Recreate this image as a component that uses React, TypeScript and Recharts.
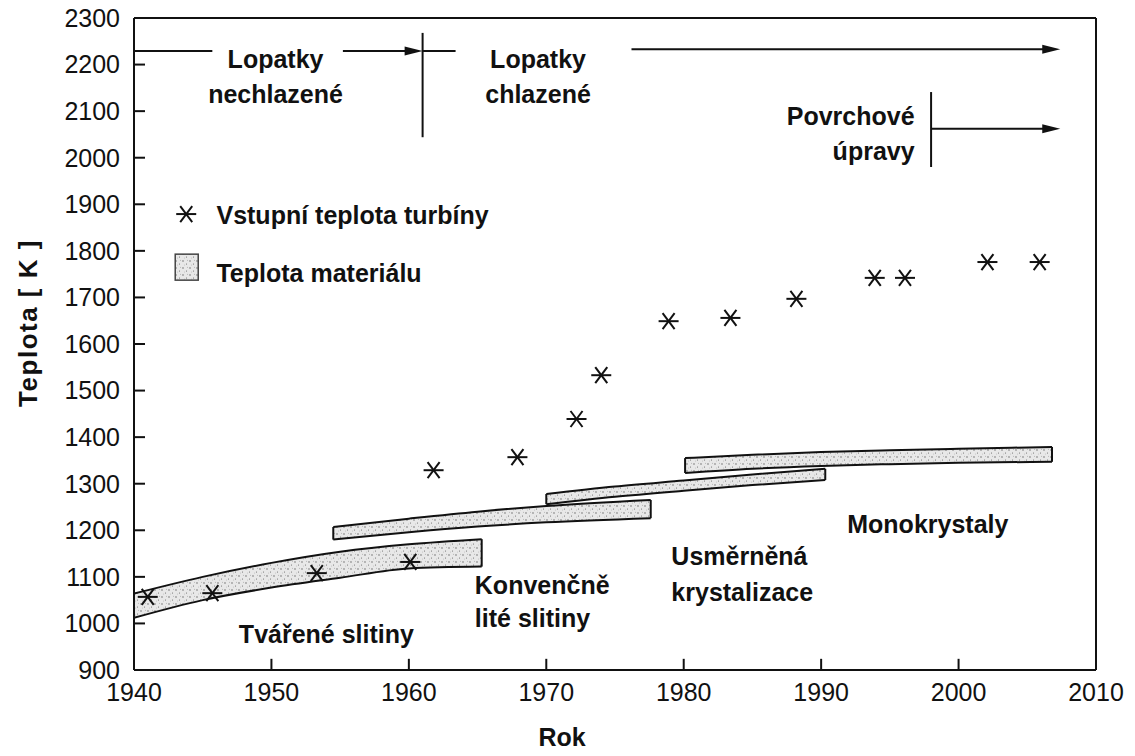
import React from 'react';
import {
  ComposedChart,
  Area,
  Scatter,
  XAxis,
  YAxis,
  ReferenceLine,
  ReferenceDot,
  Label,
} from 'recharts';

// turbine inlet temperature (stars)
const inletYears = [1941.0, 1945.7, 1953.3, 1960.1, 1961.8, 1967.9, 1972.2, 1974.0, 1978.9, 1983.4, 1988.2, 1993.9, 1996.1, 2002.1, 2005.9];
const inletTemps = [1057, 1065, 1108, 1132, 1329, 1357, 1439, 1533, 1649, 1656, 1697, 1742, 1742, 1776, 1776];

// material temperature bands
const wroughtYears = [1940, 1945, 1950, 1955, 1960, 1965.3];
const wroughtLow = [1012, 1050, 1077, 1098, 1118, 1122];
const wroughtHigh = [1064, 1100, 1130, 1154, 1170, 1181];

const castYears = [1954.5, 1960, 1965, 1970, 1977.6];
const castLow = [1180, 1196, 1208, 1217, 1226];
const castHigh = [1207, 1225, 1240, 1252, 1265];

const dsYears = [1970, 1975, 1980, 1985, 1990.3];
const dsLow = [1256, 1272, 1285, 1297, 1308];
const dsHigh = [1278, 1294, 1307, 1320, 1332];

const sxYears = [1980.1, 1985, 1990, 1995, 2000, 2006.8];
const sxLow = [1323, 1332, 1338, 1342, 1345, 1347];
const sxHigh = [1355, 1362, 1368, 1372, 1375, 1379];

const xTicks = [1940, 1950, 1960, 1970, 1980, 1990, 2000, 2010];
const yTicks = [900, 1000, 1100, 1200, 1300, 1400, 1500, 1600, 1700, 1800, 1900, 2000, 2100, 2200, 2300];

const FONT = '"Liberation Sans", Arial, Helvetica, sans-serif';
const INK = '#111';

const inletData = inletYears.map((year, i) => ({ year, temp: inletTemps[i] }));
const band = (ys: number[], lo: number[], hi: number[]) =>
  ys.map((year, i) => ({ year, range: [lo[i], hi[i]] }));

const bands = [
  band(wroughtYears, wroughtLow, wroughtHigh),
  band(castYears, castLow, castHigh),
  band(dsYears, dsLow, dsHigh),
  band(sxYears, sxLow, sxHigh),
];

const Star = ({ cx, cy }: any) => (
  <g stroke={INK} strokeWidth={2}>
    <line x1={cx - 10} y1={cy} x2={cx + 10} y2={cy} />
    <line x1={cx - 6} y1={cy - 8} x2={cx + 6} y2={cy + 8} />
    <line x1={cx - 6} y1={cy + 8} x2={cx + 6} y2={cy - 8} />
  </g>
);

const tickStyle = { fontSize: 25, fill: INK, fontFamily: FONT };

// inward tick marks, lengths in data units
const TICK_Y = 0.75; // years
const TICK_X = 23; // kelvin

const textBlock = (lines: string[], anchor: 'start' | 'middle' | 'end', gap: number) => (p: any) => (
  <text x={p.cx} y={p.cy} textAnchor={anchor} fontSize={25} fontWeight="bold" fill={INK} fontFamily={FONT}>
    {lines.map((l, i) => (
      <tspan key={i} x={p.cx} dy={i === 0 ? 0 : gap}>
        {l}
      </tspan>
    ))}
  </text>
);

const arrow = (p: any) => (
  <g>
    <line x1={p.x1} y1={p.y1} x2={p.x2 - 14} y2={p.y2} stroke={INK} strokeWidth={2} />
    <polygon points={`${p.x2},${p.y2} ${p.x2 - 18},${p.y2 - 4.5} ${p.x2 - 18},${p.y2 + 4.5}`} fill={INK} />
  </g>
);

const plain = (p: any) => <line x1={p.x1} y1={p.y1} x2={p.x2} y2={p.y2} stroke={INK} strokeWidth={2} />;

const App: React.FC = () => {
  return (
    <div style={{ position: 'absolute', left: 0, top: 0, width: 1135, height: 756, background: '#fff' }}>
      <ComposedChart width={1135} height={756} margin={{ top: 18, right: 39, bottom: 46, left: 0 }}>
        <defs>
          <pattern id="speckle" width="7" height="7" patternUnits="userSpaceOnUse">
            <rect width="7" height="7" fill="#e8e8e8" />
            <circle cx="1" cy="2" r="0.65" fill="#555" />
            <circle cx="4.5" cy="5" r="0.55" fill="#666" />
            <circle cx="5.5" cy="1.2" r="0.45" fill="#888" />
            <circle cx="2.5" cy="6" r="0.4" fill="#999" />
          </pattern>
        </defs>
        <XAxis
          type="number"
          dataKey="year"
          domain={[1940, 2010]}
          ticks={xTicks}
          allowDataOverflow
          height={40}
          tickSize={0}
          tickMargin={13}
          tickLine={false}
          axisLine={{ stroke: INK, strokeWidth: 2 }}
          tick={tickStyle}
        >
          <Label
            content={({ viewBox }: any) => (
              <text
                x={viewBox.x + viewBox.width / 2 - 53}
                y={viewBox.y + 76}
                textAnchor="middle"
                fontSize={25}
                fontWeight="bold"
                fill={INK}
                fontFamily={FONT}
              >
                Rok
              </text>
            )}
          />
        </XAxis>
        <YAxis
          type="number"
          domain={[900, 2300]}
          ticks={yTicks}
          allowDataOverflow
          width={134}
          tickSize={0}
          tickMargin={14}
          tickLine={false}
          axisLine={{ stroke: INK, strokeWidth: 2 }}
          tick={tickStyle}
        >
          <Label
            content={({ viewBox }: any) => {
              const cx = viewBox.x + 28;
              const cy = viewBox.y + viewBox.height / 2 - 21;
              return (
                <text
                  x={cx}
                  y={cy}
                  transform={`rotate(-90 ${cx} ${cy})`}
                  textAnchor="middle"
                  dominantBaseline="central"
                  fontSize={26}
                  fontWeight="bold"
                  letterSpacing={1.5}
                  fill={INK}
                  fontFamily={FONT}
                >
                  Teplota [ K ]
                </text>
              );
            }}
          />
        </YAxis>

        <ReferenceLine y={2300} stroke={INK} strokeWidth={2} />
        <ReferenceLine x={2010} stroke={INK} strokeWidth={2} />
        {yTicks.slice(1, -1).map((v) => (
          <ReferenceLine
            key={`yt${v}`}
            segment={[{ x: 1940.05, y: v }, { x: 1940.05 + TICK_Y, y: v }]}
            stroke={INK}
            strokeWidth={2}
          />
        ))}
        {xTicks.slice(1, -1).map((v) => (
          <ReferenceLine
            key={`xt${v}`}
            segment={[{ x: v, y: 901 }, { x: v, y: 901 + TICK_X }]}
            stroke={INK}
            strokeWidth={2}
          />
        ))}

        {bands.map((d, i) => (
          <Area
            key={i}
            data={d}
            dataKey="range"
            type="monotone"
            stroke={INK}
            strokeWidth={2}
            fill="url(#speckle)"
            fillOpacity={1}
            dot={false}
            activeDot={false}
            isAnimationActive={false}
          />
        ))}
        {bands.map((d, i) => (
          <ReferenceLine
            key={`s${i}`}
            segment={[{ x: d[0].year, y: d[0].range[0] }, { x: d[0].year, y: d[0].range[1] }]}
            stroke={INK}
            strokeWidth={2}
          />
        ))}
        {bands.map((d, i) => (
          <ReferenceLine
            key={`e${i}`}
            segment={[
              { x: d[d.length - 1].year, y: d[d.length - 1].range[0] },
              { x: d[d.length - 1].year, y: d[d.length - 1].range[1] },
            ]}
            stroke={INK}
            strokeWidth={2}
          />
        ))}

        <Scatter data={inletData} dataKey="temp" shape={<Star />} isAnimationActive={false} />

        {/* era arrows */}
        <ReferenceLine segment={[{ x: 1940, y: 2229 }, { x: 1945.7, y: 2229 }]} shape={plain} />
        <ReferenceLine segment={[{ x: 1955.2, y: 2229 }, { x: 1961, y: 2229 }]} shape={arrow} />
        <ReferenceLine segment={[{ x: 1961, y: 2268 }, { x: 1961, y: 2044 }]} shape={plain} />
        <ReferenceLine segment={[{ x: 1961, y: 2229 }, { x: 1963.4, y: 2229 }]} shape={plain} />
        <ReferenceLine segment={[{ x: 1976.2, y: 2233 }, { x: 2007.4, y: 2233 }]} shape={arrow} />
        <ReferenceLine segment={[{ x: 1998, y: 2141 }, { x: 1998, y: 1980 }]} shape={plain} />
        <ReferenceLine segment={[{ x: 1998, y: 2062 }, { x: 2007.4, y: 2062 }]} shape={arrow} />

        {/* annotations */}
        <ReferenceDot x={1950.3} y={2193} shape={textBlock(['Lopatky', 'nechlazené'], 'middle', 35)} />
        <ReferenceDot x={1969.4} y={2193} shape={textBlock(['Lopatky', 'chlazené'], 'middle', 35)} />
        <ReferenceDot x={1996.8} y={2071} shape={textBlock(['Povrchové', 'úpravy'], 'end', 35)} />
        <ReferenceDot x={1954.0} y={958} shape={textBlock(['Tvářené slitiny'], 'middle', 35)} />
        <ReferenceDot x={1964.8} y={1063} shape={textBlock(['Konvenčně', 'lité slitiny'], 'start', 33)} />
        <ReferenceDot x={1979.1} y={1125} shape={textBlock(['Usměrněná', 'krystalizace'], 'start', 36)} />
        <ReferenceDot x={1991.9} y={1194} shape={textBlock(['Monokrystaly'], 'start', 35)} />

        {/* legend */}
        <ReferenceDot x={1943.8} y={1879} shape={(p: any) => <Star cx={p.cx} cy={p.cy} />} />
        <ReferenceDot x={1946.0} y={1858} shape={textBlock(['Vstupní teplota turbíny'], 'start', 35)} />
        <ReferenceDot
          x={1943.8}
          y={1765}
          shape={(p: any) => (
            <rect x={p.cx - 11} y={p.cy - 13} width={23} height={26} fill="url(#speckle)" stroke="#444" strokeWidth={1.5} />
          )}
        />
        <ReferenceDot x={1946.0} y={1733} shape={textBlock(['Teplota materiálu'], 'start', 35)} />
      </ComposedChart>
    </div>
  );
};

export default App;
